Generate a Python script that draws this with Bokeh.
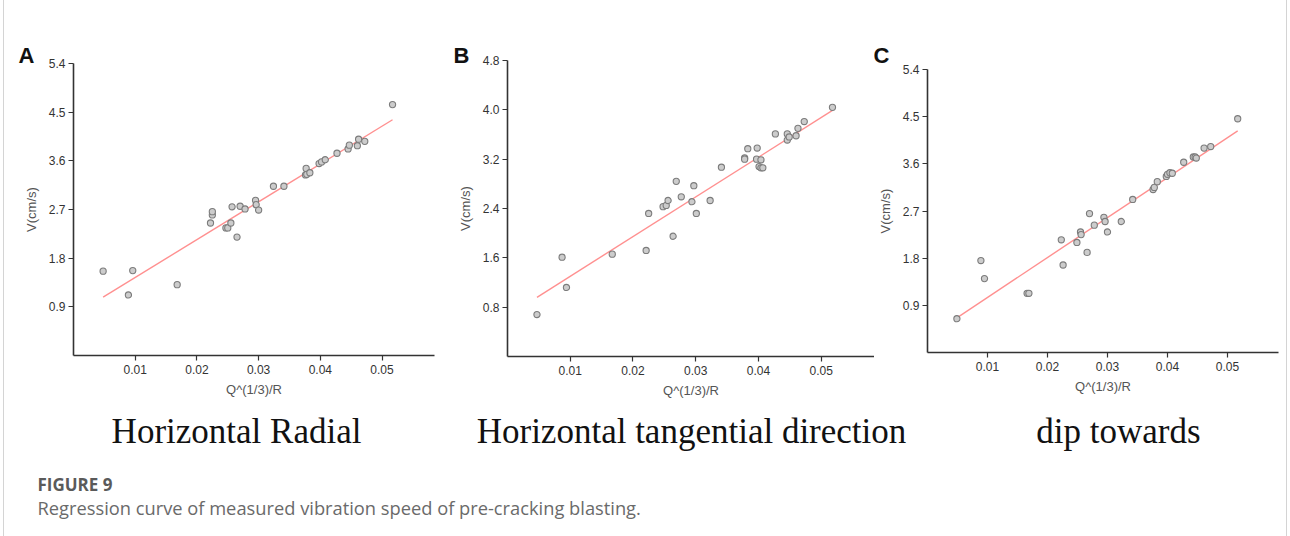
from bokeh.plotting import figure
from bokeh.models import Range1d, FixedTicker, PrintfTickFormatter, Label
from bokeh.layouts import row, column
from bokeh.embed import file_html
from bokeh.resources import INLINE

# ---------------- data ----------------
xa = [0.0048, 0.0089, 0.0096, 0.0168, 0.0222, 0.0225, 0.0225, 0.0247, 0.0250, 0.0255, 0.0257,
      0.0265, 0.0270, 0.0278, 0.0295, 0.0296, 0.0300, 0.0324, 0.0341, 0.0377, 0.0376, 0.0378,
      0.0383, 0.0398, 0.0402, 0.0408, 0.0427, 0.0445, 0.0447, 0.0460, 0.0462, 0.0472, 0.0517]
ya = [1.56, 1.12, 1.57, 1.31, 2.45, 2.60, 2.66, 2.36, 2.36, 2.45, 2.75,
      2.19, 2.76, 2.71, 2.87, 2.79, 2.69, 3.13, 3.13, 3.46, 3.34, 3.35,
      3.38, 3.55, 3.58, 3.62, 3.74, 3.82, 3.89, 3.88, 4.00, 3.96, 4.64]
fit_xa = [0.0048, 0.0517]
fit_ya = [1.08, 4.36]

xb = [0.0047, 0.0087, 0.0094, 0.0167, 0.0221, 0.0225, 0.0248, 0.0253, 0.0256, 0.0264, 0.0269,
      0.0277, 0.0294, 0.0297, 0.0301, 0.0323, 0.0341, 0.0378, 0.0378, 0.0383, 0.0398, 0.0397,
      0.0404, 0.0401, 0.0404, 0.0407, 0.0427, 0.0446, 0.0446, 0.0449, 0.0460, 0.0463, 0.0473, 0.0518]
yb = [0.68, 1.61, 1.12, 1.66, 1.72, 2.32, 2.43, 2.45, 2.53, 1.95, 2.84,
      2.59, 2.51, 2.77, 2.32, 2.53, 3.07, 3.22, 3.20, 3.37, 3.38, 3.20,
      3.19, 3.08, 3.06, 3.06, 3.61, 3.61, 3.51, 3.56, 3.58, 3.70, 3.81, 4.04]
fit_xb = [0.0047, 0.0518]
fit_yb = [0.96, 3.99]

xc = [0.0049, 0.0089, 0.0095, 0.0166, 0.0169, 0.0223, 0.0226, 0.0249, 0.0255, 0.0256, 0.0266,
      0.0270, 0.0278, 0.0294, 0.0296, 0.0300, 0.0323, 0.0342, 0.0376, 0.0378, 0.0383, 0.0398,
      0.0400, 0.0404, 0.0408, 0.0427, 0.0443, 0.0446, 0.0448, 0.0461, 0.0472, 0.0517]
yc = [0.645, 1.755, 1.41, 1.13, 1.13, 2.15, 1.67, 2.10, 2.30, 2.25, 1.91,
      2.65, 2.43, 2.58, 2.50, 2.30, 2.50, 2.92, 3.11, 3.15, 3.26, 3.36,
      3.40, 3.43, 3.42, 3.63, 3.73, 3.73, 3.71, 3.90, 3.93, 4.46]
fit_xc = [0.0049, 0.0517]
fit_yc = [0.66, 4.23]

x_ticks = [0.01, 0.02, 0.03, 0.04, 0.05]
y_ticks_a = [0.9, 1.8, 2.7, 3.6, 4.5, 5.4]
y_ticks_b = [0.8, 1.6, 2.4, 3.2, 4.0, 4.8]
y_ticks_c = [0.9, 1.8, 2.7, 3.6, 4.5, 5.4]

letters = ["A", "B", "C"]
subtitles = ["Horizontal Radial", "Horizontal tangential direction", "dip towards"]
x_label = "Q^(1/3)/R"
y_label = "V(cm/s)"
caption_head = "FIGURE 9"
caption_text = "Regression curve of measured vibration speed of pre-cracking blasting."

# ---------------- layout constants (page pixels) ----------------
ROW_H = 402
X_MAX = 0.0585

panels = [
    dict(left=0,   width=445, bl=73, fw=361, bt=63, fh=292, ymax=5.4, yt=y_ticks_a, xs=xa, ys=ya,
         fx=fit_xa, fy=fit_ya, lx=18, sc=236, ts=-9),
    dict(left=445, width=429, bl=62, fw=367, bt=60, fh=296, ymax=4.8, yt=y_ticks_b, xs=xb, ys=yb,
         fx=fit_xb, fy=fit_yb, lx=453, sc=691, ts=-15),
    dict(left=874, width=416, bl=53, fw=351, bt=69, fh=283, ymax=5.4, yt=y_ticks_c, xs=xc, ys=yc,
         fx=fit_xc, fy=fit_yc, lx=873, sc=1118, ts=3),
]

AX = "#333333"
cols = []
for i, d in enumerate(panels):
    br = d["width"] - d["bl"] - d["fw"]
    bb = ROW_H - d["bt"] - d["fh"]
    p = figure(width=d["width"], height=ROW_H, output_backend="svg", toolbar_location=None,
               x_range=Range1d(0, X_MAX), y_range=Range1d(0, d["ymax"]),
               min_border_left=d["bl"], min_border_right=br, min_border_top=d["bt"],
               min_border_bottom=bb, title=letters[i])
    p.border_fill_color = None
    p.background_fill_color = None
    p.outline_line_color = None
    p.grid.visible = False

    p.title.text_font = "Liberation Sans"
    p.title.text_font_style = "bold"
    p.title.text_font_size = "22px"
    p.title.text_color = "#111111"
    p.title.align = "left"
    p.title.vertical_align = "bottom"
    p.title.offset = d["lx"] - d["left"] - d["bl"]
    p.title.standoff = d["ts"]

    for ax in (p.xaxis[0], p.yaxis[0]):
        ax.axis_line_color = AX
        ax.axis_line_width = 1.6
        ax.major_tick_line_color = AX
        ax.major_tick_line_width = 1.2
        ax.major_tick_out = 5
        ax.major_tick_in = 0
        ax.minor_tick_line_color = None
        ax.major_label_text_font = "Liberation Sans"
        ax.major_label_text_font_size = "12px"
        ax.major_label_text_color = "#333333"
        ax.axis_label_text_font = "Liberation Sans"
        ax.axis_label_text_font_size = "13px"
        ax.axis_label_text_font_style = "normal"
        ax.axis_label_text_color = "#555555"
    p.xaxis.ticker = FixedTicker(ticks=x_ticks)
    p.xaxis.formatter = PrintfTickFormatter(format="%.2f")
    p.xaxis.axis_label = x_label
    p.xaxis.major_label_standoff = 4
    p.xaxis.axis_label_standoff = 5
    p.yaxis.ticker = FixedTicker(ticks=d["yt"])
    p.yaxis.formatter = PrintfTickFormatter(format="%.1f")
    p.yaxis.axis_label = y_label
    p.yaxis.major_label_standoff = 3
    p.yaxis.axis_label_standoff = 7

    p.line(d["fx"], d["fy"], line_color="#ff9090", line_width=1.4)
    p.scatter(d["xs"], d["ys"], size=6.2, fill_color="#cccccc", line_color="#7c7c7c",
              line_width=1.1)
    cols.append(column(p))

CAP_H = 536 - ROW_H
cap = figure(width=1290, height=CAP_H, output_backend="svg", toolbar_location=None,
             x_range=Range1d(0, 1290), y_range=Range1d(536, ROW_H),
             x_axis_type=None, y_axis_type=None, min_border=0)
cap.title = None
cap.border_fill_color = None
cap.background_fill_color = None
cap.outline_line_color = None
cap.grid.visible = False
for i, d in enumerate(panels):
    cap.add_layout(Label(x=d["sc"], y=431, text=subtitles[i],
                         text_font="Liberation Serif", text_font_size="35px",
                         text_color="#111111", text_align="center",
                         text_baseline="alphabetic"))
cap.add_layout(Label(x=37, y=484, text=caption_head, text_font="Open Sans",
                     text_font_style="bold", text_font_size="17px", text_color="#5a5a5a",
                     text_align="left", text_baseline="alphabetic"))
cap.add_layout(Label(x=37, y=507, text=caption_text, text_font="Open Sans",
                     text_font_size="18.3px", text_color="#6a6a6a",
                     text_align="left", text_baseline="alphabetic"))

layout = column(row(*cols), cap, styles={
    "background": "linear-gradient(to right, #ffffff 0px, #ffffff 3px, #d4d4d4 3px, "
                  "#d4d4d4 4px, #ffffff 4px, #ffffff 1286px, #d4d4d4 1286px, "
                  "#d4d4d4 1287px, #ffffff 1287px)"})

open("out.html", "w").write(file_html(layout, INLINE))
